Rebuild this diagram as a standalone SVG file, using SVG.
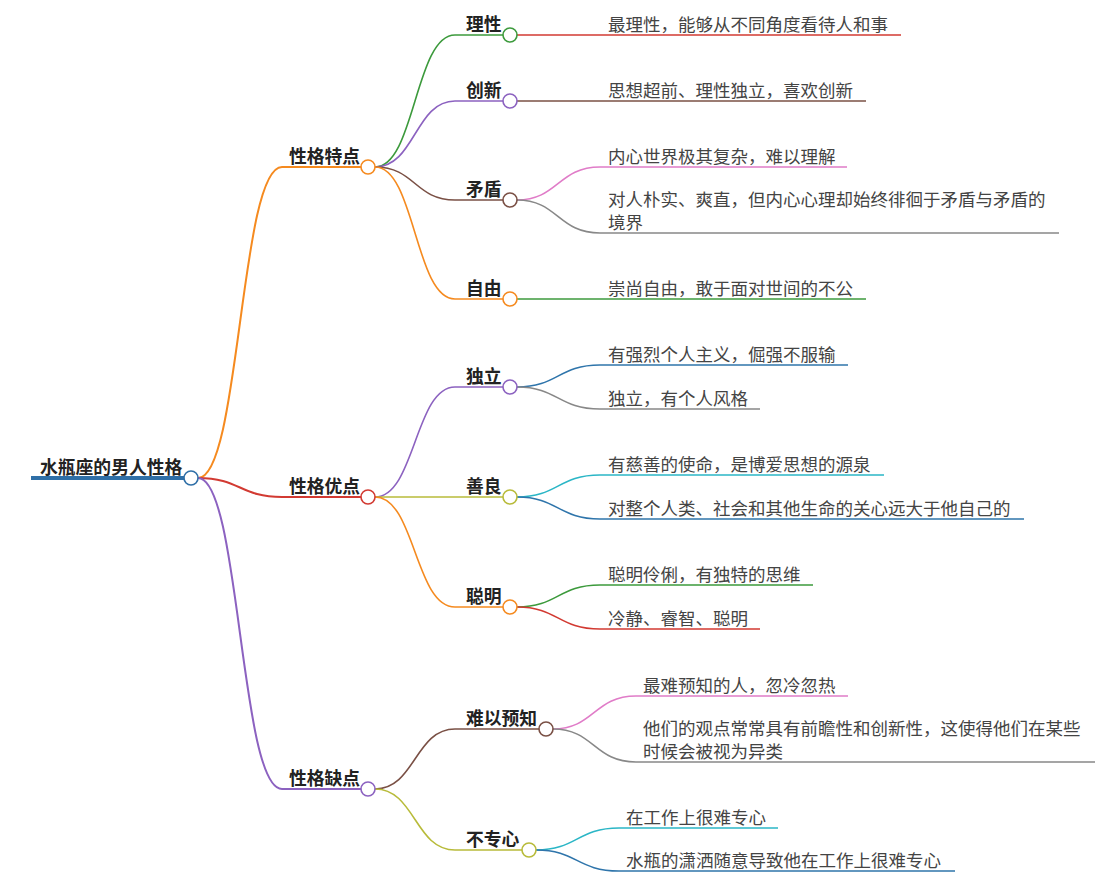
<svg xmlns="http://www.w3.org/2000/svg" width="1116" height="884" viewBox="0 0 1116 884">
<style>
.t{font-family:"Noto Sans CJK SC","Noto Sans",sans-serif;font-size:17.5px;fill:#444}
.b{font-family:"Noto Sans CJK SC","Noto Sans",sans-serif;font-size:17.8px;font-weight:700;fill:#222}
.c{fill:#fff;stroke-width:1.6}
path{fill:none}
.l1{stroke-width:2}
.l2{stroke-width:1.6}
</style>
<rect width="1116" height="884" fill="#fff"/>
<g id="connectors">
<path d="M31,478 L185,478" stroke="#2f6fa7" stroke-width="4"/>
<path class="l1" d="M198,478 C240,478 240,167 282,167 L361,167" stroke="#f58a1f"/>
<path class="l1" d="M198,478 C240,478 240,497 282,497 L361,497" stroke="#d23a32"/>
<path class="l1" d="M198,478 C240,478 240,789 282,789 L361,789" stroke="#8c62c0"/>
<path class="l2" d="M375,167 C415,167 415,35 455,35 L503,35" stroke="#3c9a3c"/>
<path class="l2" d="M375,167 C415,167 415,101 455,101 L503,101" stroke="#8c62c0"/>
<path class="l2" d="M375,167 C415,167 415,200 455,200 L503,200" stroke="#7a5045"/>
<path class="l2" d="M375,167 C415,167 415,299 455,299 L503,299" stroke="#f58a1f"/>
<path class="l2" d="M375,497 C415,497 415,387 455,387 L503,387" stroke="#8c62c0"/>
<path class="l2" d="M375,497 L503,497" stroke="#b8bb3a"/>
<path class="l2" d="M375,497 C415,497 415,607 455,607 L503,607" stroke="#f58a1f"/>
<path class="l2" d="M375,789 C415,789 415,729 455,729 L539,729" stroke="#7a5045"/>
<path class="l2" d="M375,789 C415,789 415,850 455,850 L522,850" stroke="#b8bb3a"/>
<path class="l2" d="M517,35 L901,35" stroke="#d23a32"/>
<path class="l2" d="M517,101 L866,101" stroke="#7a5045"/>
<path class="l2" d="M517,200 C558,200 558,167 600,167 L847,167" stroke="#e07cc8"/>
<path class="l2" d="M517,200 C558,200 558,233 600,233 L1059,233" stroke="#888"/>
<path class="l2" d="M517,299 L866,299" stroke="#3c9a3c"/>
<path class="l2" d="M517,387 C558,387 558,365 600,365 L848,365" stroke="#2f75ab"/>
<path class="l2" d="M517,387 C558,387 558,409 600,409 L760,409" stroke="#888"/>
<path class="l2" d="M517,497 C558,497 558,475 600,475 L884,475" stroke="#2bb6c6"/>
<path class="l2" d="M517,497 C558,497 558,519 600,519 L1024,519" stroke="#2f75ab"/>
<path class="l2" d="M517,607 C558,607 558,585 600,585 L813,585" stroke="#3c9a3c"/>
<path class="l2" d="M517,607 C558,607 558,629 600,629 L760,629" stroke="#d23a32"/>
<path class="l2" d="M553,729 C594,729 594,696 636,696 L848,696" stroke="#e07cc8"/>
<path class="l2" d="M553,729 C594,729 594,762 636,762 L1095,762" stroke="#888"/>
<path class="l2" d="M536,850 C577,850 577,828 619,828 L778,828" stroke="#2bb6c6"/>
<path class="l2" d="M536,850 C577,850 577,871 619,871 L955,871" stroke="#2f75ab"/>
</g>
<g id="root"><text class="b" x="40" y="474">水瓶座的男人性格</text><circle class="c" cx="191" cy="478" r="7" stroke="#2f6fa7"/></g>
<g id="n-tedian"><text class="b" x="289" y="163">性格特点</text><circle class="c" cx="368" cy="167" r="7" stroke="#f58a1f"/></g>
<g id="n-youdian"><text class="b" x="289" y="493">性格优点</text><circle class="c" cx="368" cy="497" r="7" stroke="#d23a32"/></g>
<g id="n-quedian"><text class="b" x="289" y="785">性格缺点</text><circle class="c" cx="368" cy="789" r="7" stroke="#8c62c0"/></g>
<g id="n-lixing"><text class="b" x="466" y="31">理性</text><circle class="c" cx="510" cy="35" r="7" stroke="#3c9a3c"/></g>
<g id="n-chuangxin"><text class="b" x="466" y="97">创新</text><circle class="c" cx="510" cy="101" r="7" stroke="#8c62c0"/></g>
<g id="n-maodun"><text class="b" x="466" y="196">矛盾</text><circle class="c" cx="510" cy="200" r="7" stroke="#7a5045"/></g>
<g id="n-ziyou"><text class="b" x="466" y="295">自由</text><circle class="c" cx="510" cy="299" r="7" stroke="#f58a1f"/></g>
<g id="n-duli"><text class="b" x="466" y="383">独立</text><circle class="c" cx="510" cy="387" r="7" stroke="#8c62c0"/></g>
<g id="n-shanliang"><text class="b" x="466" y="493">善良</text><circle class="c" cx="510" cy="497" r="7" stroke="#b8bb3a"/></g>
<g id="n-congming"><text class="b" x="466" y="603">聪明</text><circle class="c" cx="510" cy="607" r="7" stroke="#f58a1f"/></g>
<g id="n-nanyi"><text class="b" x="466" y="725">难以预知</text><circle class="c" cx="546" cy="729" r="7" stroke="#7a5045"/></g>
<g id="n-buzhuanxin"><text class="b" x="466" y="846">不专心</text><circle class="c" cx="529" cy="850" r="7" stroke="#b8bb3a"/></g>
<g id="leaf1"><text class="t" x="608" y="31">最理性，能够从不同角度看待人和事</text></g>
<g id="leaf2"><text class="t" x="608" y="97">思想超前、理性独立，喜欢创新</text></g>
<g id="leaf3"><text class="t" x="608" y="163">内心世界极其复杂，难以理解</text></g>
<g id="leaf4"><text class="t" x="608" y="206">对人朴实、爽直，但内心心理却始终徘徊于矛盾与矛盾的</text><text class="t" x="608" y="229">境界</text></g>
<g id="leaf5"><text class="t" x="608" y="295">崇尚自由，敢于面对世间的不公</text></g>
<g id="leaf6"><text class="t" x="608" y="361">有强烈个人主义，倔强不服输</text></g>
<g id="leaf7"><text class="t" x="608" y="405">独立，有个人风格</text></g>
<g id="leaf8"><text class="t" x="608" y="471">有慈善的使命，是博爱思想的源泉</text></g>
<g id="leaf9"><text class="t" x="608" y="515">对整个人类、社会和其他生命的关心远大于他自己的</text></g>
<g id="leaf10"><text class="t" x="608" y="581">聪明伶俐，有独特的思维</text></g>
<g id="leaf11"><text class="t" x="608" y="625">冷静、睿智、聪明</text></g>
<g id="leaf12"><text class="t" x="643" y="692">最难预知的人，忽冷忽热</text></g>
<g id="leaf13"><text class="t" x="643" y="735">他们的观点常常具有前瞻性和创新性，这使得他们在某些</text><text class="t" x="643" y="758">时候会被视为异类</text></g>
<g id="leaf14"><text class="t" x="626" y="824">在工作上很难专心</text></g>
<g id="leaf15"><text class="t" x="626" y="867">水瓶的潇洒随意导致他在工作上很难专心</text></g>
</svg>
